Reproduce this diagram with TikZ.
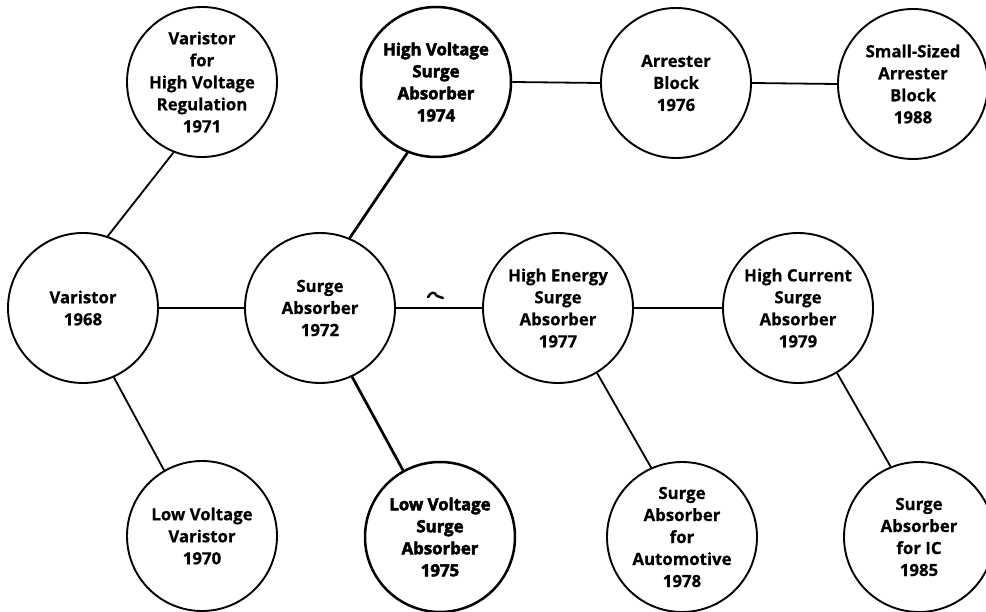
\documentclass[tikz,border=0pt]{standalone}
\usepackage{fontspec}
\setmainfont{Open Sans}[BoldFeatures={FakeBold=0.6}]
\newfontfamily\heavyfont{Open Sans}[BoldFeatures={FakeBold=3}]
\begin{document}
\begin{tikzpicture}[x=1pt,y=-1pt,
  bubble/.style={circle,draw=black,line width=1.9pt,minimum size=150pt,inner sep=0pt,
    align=center,font=\bfseries\fontsize{16.8}{22}\selectfont},
  heavybubble/.style={bubble,line width=2.5pt,font=\heavyfont\bfseries\fontsize{16.8}{22}\selectfont},
  link/.style={line width=1.8pt},
  heavylink/.style={line width=2.7pt}]
\useasboundingbox (0,0) rectangle (986,612);
\node[bubble] (var) at (83,308) {Varistor\\1968};
\node[bubble] (vhvr) at (202,82) {Varistor\\for\\High Voltage\\Regulation\\1971};
\node[bubble] (lvv) at (202,536) {Low Voltage\\Varistor\\1970};
\node[bubble] (sa) at (320,308) {Surge\\Absorber\\1972};
\node[heavybubble] (hvsa) at (436,82) {High Voltage\\Surge\\Absorber\\1974};
\node[heavybubble] (lvsa) at (440,537) {Low Voltage\\Surge\\Absorber\\1975};
\node[bubble] (ab) at (676,83) {Arrester\\Block\\1976};
\node[bubble] (ss) at (913,84) {Small-Sized\\Arrester\\Block\\1988};
\node[bubble] (he) at (558,308) {High Energy\\Surge\\Absorber\\1977};
\node[bubble] (hc) at (798,308) {High Current\\Surge\\Absorber\\1979};
\node[bubble] (auto) at (682,537) {Surge\\Absorber\\for\\Automotive\\1978};
\node[bubble] (ic) at (919,537) {Surge\\Absorber\\for IC\\1985};

\draw[link] (var.71) -- (vhvr.248);
\draw[link] (var.294) -- (lvv.120);
\draw[link] (var.east) -- (sa.west);
\draw[heavylink] (sa.67) -- (hvsa.248);
\draw[heavylink] (sa.295) -- (lvsa.119);
\draw[heavylink] (sa.east) -- (he.west);
\draw[link] (hvsa.east) -- (ab.west);
\draw[link] (ab.east) -- (ss.west);
\draw[link] (he.east) -- (hc.west);
\draw[link] (he.301) -- (auto.114);
\draw[link] (hc.301) -- (ic.112);
\draw[line width=2.4pt,line cap=round] (428,297) .. controls (431,292) and (434,291) .. (437,296) -- (443,298);
\end{tikzpicture}
\end{document}
